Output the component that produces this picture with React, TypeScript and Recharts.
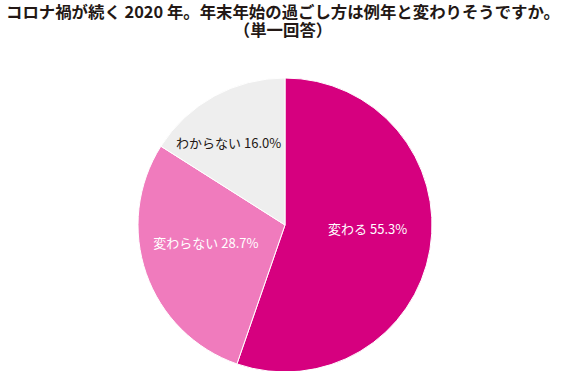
import { PieChart, Pie, Cell } from "recharts";

const categories = ["変わる", "変わらない", "わからない"];
const shares = [55.3, 28.7, 16.0];
const colors = ["#d6007f", "#f07bbd", "#eeeeee"];
const labelColors = ["#ffffff", "#ffffff", "#231815"];
// small nudges so labels sit where the original put them
const labelShift = [
  [0, -10],
  [0, -10],
  [-16, -9],
];

const data = categories.map((name, i) => ({ name, value: shares[i] }));

const RAD = Math.PI / 180;

function renderLabel(props: any) {
  const { cx, cy, midAngle, outerRadius, index, name, value } = props;
  const r = outerRadius * 0.57;
  const x = cx + r * Math.cos(-midAngle * RAD) + labelShift[index][0];
  const y = cy + r * Math.sin(-midAngle * RAD) + labelShift[index][1];
  return (
    <text
      x={x}
      y={y}
      fill={labelColors[index]}
      textAnchor="middle"
      dominantBaseline="central"
      fontSize={13}
      fontFamily="'Noto Sans CJK JP', 'Noto Sans', sans-serif"
    >
      {`${name} ${value.toFixed(1)}%`}
    </text>
  );
}

export default function App() {
  return (
    <div style={{ position: "absolute", left: 0, top: 0, width: 566, height: 371, background: "#fff" }}>
      <div
        style={{
          position: "absolute",
          left: 0,
          top: 2,
          width: 566,
          textAlign: "center",
          fontFamily: "'Noto Sans CJK JP', sans-serif",
          fontWeight: 700,
          fontSize: 16.4,
          lineHeight: "18px",
          color: "#231815",
          whiteSpace: "nowrap",
        }}
      >
        <div>コロナ禍が続く 2020 年。年末年始の過ごし方は例年と変わりそうですか。</div>
        <div>（単一回答）</div>
      </div>
      <PieChart
        width={566}
        height={371}
        margin={{ top: 0, right: 0, bottom: 0, left: 0 }}
        style={{ position: "absolute", left: 0, top: 0 }}
      >
        <Pie
          data={data}
          dataKey="value"
          nameKey="name"
          cx={285}
          cy={225}
          outerRadius={147}
          startAngle={90}
          endAngle={-270}
          stroke="#ffffff"
          strokeWidth={1}
          label={renderLabel}
          labelLine={false}
          isAnimationActive={false}
        >
          {data.map((d, i) => (
            <Cell key={d.name} fill={colors[i]} />
          ))}
        </Pie>
      </PieChart>
    </div>
  );
}
